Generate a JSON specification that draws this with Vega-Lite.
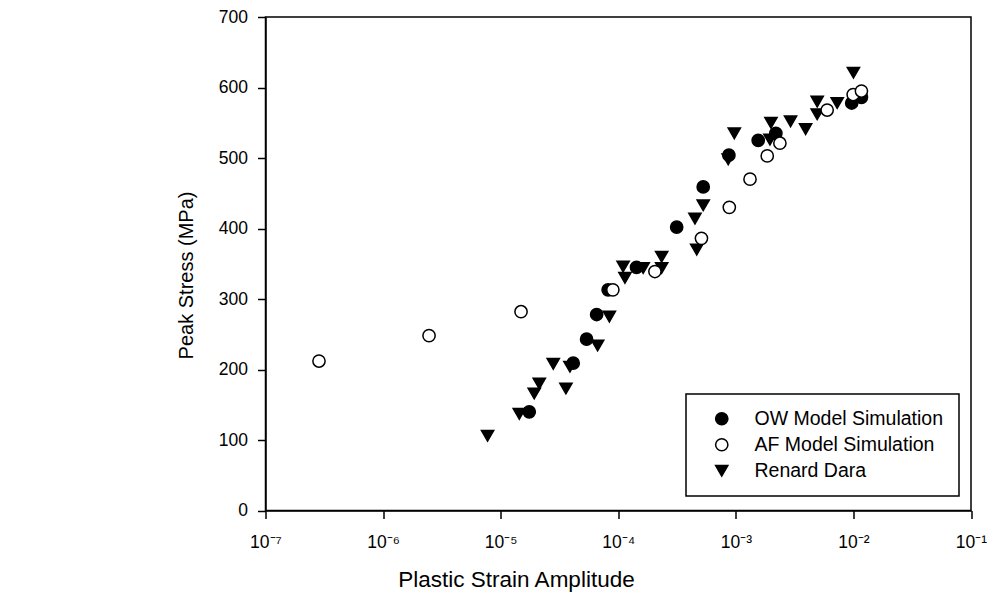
{
  "$schema": "https://vega.github.io/schema/vega-lite/v6.json",
  "width": 705.5,
  "height": 493.5,
  "autosize": {"type": "none"},
  "padding": {"left": 265.5, "top": 17, "right": 16, "bottom": 81.5},
  "background": "white",
  "config": {
    "font": "Liberation Sans",
    "view": {"stroke": "black", "strokeWidth": 1.5},
    "legend": {"strokeWidth": 1.5}
  },
  "data": {
    "values": [
      {"series": "Renard Dara", "strain": 7.74e-6, "stress": 106},
      {"series": "Renard Dara", "strain": 1.44e-5, "stress": 137},
      {"series": "Renard Dara", "strain": 1.93e-5, "stress": 166},
      {"series": "Renard Dara", "strain": 2.13e-5, "stress": 180},
      {"series": "Renard Dara", "strain": 2.80e-5, "stress": 208},
      {"series": "Renard Dara", "strain": 3.59e-5, "stress": 173},
      {"series": "Renard Dara", "strain": 3.88e-5, "stress": 204},
      {"series": "Renard Dara", "strain": 6.68e-5, "stress": 234},
      {"series": "Renard Dara", "strain": 8.4e-5, "stress": 275},
      {"series": "Renard Dara", "strain": 1.10e-4, "stress": 346},
      {"series": "Renard Dara", "strain": 1.14e-4, "stress": 330},
      {"series": "Renard Dara", "strain": 1.63e-4, "stress": 344},
      {"series": "Renard Dara", "strain": 2.34e-4, "stress": 360},
      {"series": "Renard Dara", "strain": 2.34e-4, "stress": 344},
      {"series": "Renard Dara", "strain": 4.65e-4, "stress": 370},
      {"series": "Renard Dara", "strain": 4.49e-4, "stress": 414},
      {"series": "Renard Dara", "strain": 5.28e-4, "stress": 433},
      {"series": "Renard Dara", "strain": 8.61e-4, "stress": 498},
      {"series": "Renard Dara", "strain": 9.7e-4, "stress": 535},
      {"series": "Renard Dara", "strain": 1.99e-3, "stress": 550},
      {"series": "Renard Dara", "strain": 1.95e-3, "stress": 526},
      {"series": "Renard Dara", "strain": 2.92e-3, "stress": 552},
      {"series": "Renard Dara", "strain": 3.92e-3, "stress": 541},
      {"series": "Renard Dara", "strain": 4.92e-3, "stress": 580},
      {"series": "Renard Dara", "strain": 4.92e-3, "stress": 562},
      {"series": "Renard Dara", "strain": 7.28e-3, "stress": 578},
      {"series": "Renard Dara", "strain": 1.0e-2, "stress": 621},
      {"series": "OW Model Simulation", "strain": 1.75e-5, "stress": 140},
      {"series": "OW Model Simulation", "strain": 4.14e-5, "stress": 209},
      {"series": "OW Model Simulation", "strain": 5.38e-5, "stress": 243},
      {"series": "OW Model Simulation", "strain": 6.55e-5, "stress": 278},
      {"series": "OW Model Simulation", "strain": 8.2e-5, "stress": 313},
      {"series": "OW Model Simulation", "strain": 1.43e-4, "stress": 345},
      {"series": "OW Model Simulation", "strain": 3.14e-4, "stress": 402},
      {"series": "OW Model Simulation", "strain": 5.28e-4, "stress": 459},
      {"series": "OW Model Simulation", "strain": 8.73e-4, "stress": 504},
      {"series": "OW Model Simulation", "strain": 1.55e-3, "stress": 525},
      {"series": "OW Model Simulation", "strain": 2.19e-3, "stress": 535},
      {"series": "OW Model Simulation", "strain": 9.67e-3, "stress": 578},
      {"series": "OW Model Simulation", "strain": 1.17e-2, "stress": 586},
      {"series": "AF Model Simulation", "strain": 2.85e-7, "stress": 212},
      {"series": "AF Model Simulation", "strain": 2.46e-6, "stress": 248},
      {"series": "AF Model Simulation", "strain": 1.49e-5, "stress": 282},
      {"series": "AF Model Simulation", "strain": 9.0e-5, "stress": 313},
      {"series": "AF Model Simulation", "strain": 2.05e-4, "stress": 339},
      {"series": "AF Model Simulation", "strain": 5.1e-4, "stress": 386},
      {"series": "AF Model Simulation", "strain": 8.8e-4, "stress": 430},
      {"series": "AF Model Simulation", "strain": 1.32e-3, "stress": 470},
      {"series": "AF Model Simulation", "strain": 1.85e-3, "stress": 503},
      {"series": "AF Model Simulation", "strain": 2.37e-3, "stress": 521},
      {"series": "AF Model Simulation", "strain": 5.98e-3, "stress": 568},
      {"series": "AF Model Simulation", "strain": 9.95e-3, "stress": 590},
      {"series": "AF Model Simulation", "strain": 1.17e-2, "stress": 595}
    ]
  },
  "mark": {"type": "point", "filled": true, "strokeWidth": 1.5, "size": 150, "opacity": 1},
  "encoding": {
    "x": {
      "field": "strain",
      "type": "quantitative",
      "scale": {"type": "log", "domain": [1e-7, 0.1], "nice": false},
      "axis": {
        "values": [1e-7, 1e-6, 1e-5, 1e-4, 1e-3, 1e-2, 1e-1],
        "labelExpr": "round(log(datum.value)/LN10) == -7 ? '10⁻⁷' : round(log(datum.value)/LN10) == -6 ? '10⁻⁶' : round(log(datum.value)/LN10) == -5 ? '10⁻⁵' : round(log(datum.value)/LN10) == -4 ? '10⁻⁴' : round(log(datum.value)/LN10) == -3 ? '10⁻³' : round(log(datum.value)/LN10) == -2 ? '10⁻²' : '10⁻¹'",
        "title": "Plastic Strain Amplitude",
        "titleFontSize": 22.5,
        "titleFontWeight": "normal",
        "titleColor": "black",
        "titleX": 250.5,
        "titleY": 76,
        "titleBaseline": "alphabetic",
        "titleAlign": "center",
        "labelFontSize": 17.5,
        "labelColor": "black",
        "labelPadding": 15,
        "labelFlush": false,
        "labelOverlap": false,
        "tickSize": 8,
        "tickColor": "black",
        "tickWidth": 1.5,
        "domainColor": "black",
        "domainWidth": 1.5,
        "grid": false
      }
    },
    "y": {
      "field": "stress",
      "type": "quantitative",
      "scale": {"domain": [0, 700], "nice": false, "zero": true},
      "axis": {
        "values": [0, 100, 200, 300, 400, 500, 600, 700],
        "format": "d",
        "title": "Peak Stress (MPa)",
        "titleFontSize": 20,
        "titleFontWeight": "normal",
        "titleColor": "black",
        "titleX": -73.5,
        "titleY": 258,
        "titleBaseline": "alphabetic",
        "titleAlign": "center",
        "titleAngle": -90,
        "labelFontSize": 17.5,
        "labelColor": "black",
        "labelPadding": 10,
        "labelFlush": false,
        "tickSize": 8,
        "tickColor": "black",
        "tickWidth": 1.5,
        "domainColor": "black",
        "domainWidth": 1.5,
        "grid": false
      }
    },
    "shape": {
      "field": "series",
      "type": "nominal",
      "scale": {"domain": ["OW Model Simulation", "AF Model Simulation", "Renard Dara"], "range": ["circle", "circle", "triangle-down"]},
      "legend": {
        "title": null,
        "orient": "none",
        "legendX": 420.5,
        "legendY": 377,
        "strokeColor": "black",
        "fillColor": "white",
        "padding": 15,
        "symbolOffset": 11,
        "symbolSize": 150,
        "symbolStrokeWidth": 1.5,
        "labelFontSize": 19.5,
        "labelColor": "black",
        "labelOffset": 23,
        "labelLimit": 400,
        "rowPadding": 5
      }
    },
    "fill": {
      "field": "series",
      "type": "nominal",
      "scale": {"domain": ["OW Model Simulation", "AF Model Simulation", "Renard Dara"], "range": ["black", "white", "black"]},
      "legend": {
        "title": null,
        "orient": "none",
        "legendX": 420.5,
        "legendY": 377,
        "strokeColor": "black",
        "fillColor": "white",
        "padding": 15,
        "symbolOffset": 11,
        "symbolSize": 150,
        "symbolStrokeWidth": 1.5,
        "labelFontSize": 19.5,
        "labelColor": "black",
        "labelOffset": 23,
        "labelLimit": 400,
        "rowPadding": 5
      }
    },
    "stroke": {
      "field": "series",
      "type": "nominal",
      "scale": {"domain": ["OW Model Simulation", "AF Model Simulation", "Renard Dara"], "range": ["black", "black", "black"]},
      "legend": {
        "title": null,
        "orient": "none",
        "legendX": 420.5,
        "legendY": 377,
        "strokeColor": "black",
        "fillColor": "white",
        "padding": 15,
        "symbolOffset": 11,
        "symbolSize": 150,
        "symbolStrokeWidth": 1.5,
        "labelFontSize": 19.5,
        "labelColor": "black",
        "labelOffset": 23,
        "labelLimit": 400,
        "rowPadding": 5
      }
    }
  }
}
